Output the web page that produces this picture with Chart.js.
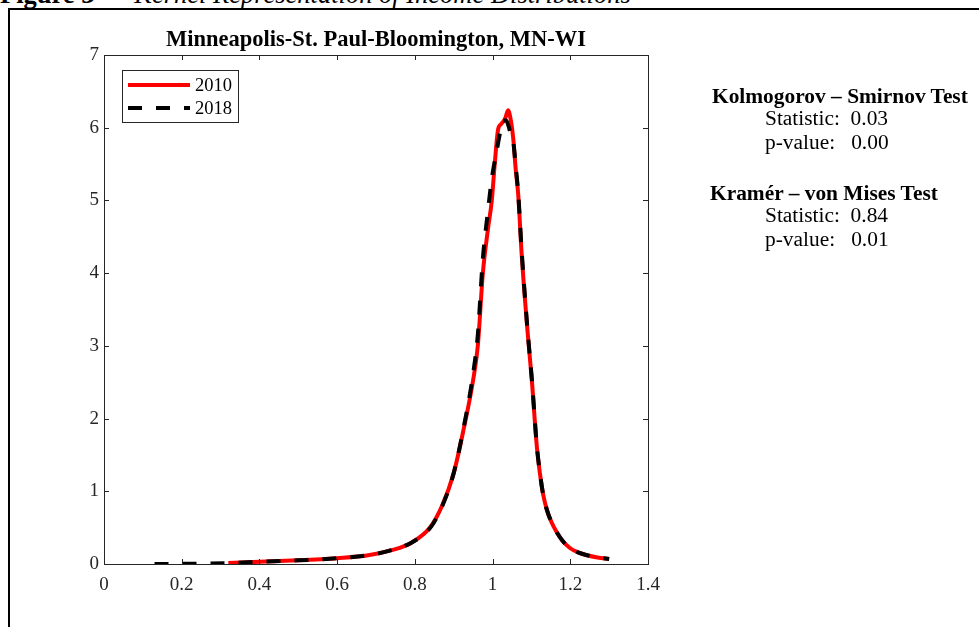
<!DOCTYPE html>
<html>
<head>
<meta charset="utf-8">
<script src="https://cdn.jsdelivr.net/npm/chart.js@4/dist/chart.umd.min.js"></script>
<style>
  body { margin: 0; background: #fff; width: 979px; height: 627px; overflow: hidden; position: relative;
         font-family: "Liberation Serif", "Times New Roman", serif; color: #000; }
  #frame { position: absolute; left: 8px; top: 8px; width: 1200px; height: 900px;
           border-left: 2px solid #000; border-top: 2px solid #000; }
  #head { position: absolute; left: 0; top: -19px; font-size: 26.5px; line-height: 26px; white-space: pre; }
  #head i { font-style: italic; }
  canvas { position: absolute; left: 0; top: 0; }
  .st { position: absolute; font-size: 20px; white-space: pre; line-height: 20px;
        transform: scaleX(1.07); transform-origin: 0 0; }
  .st b { font-weight: bold; }
</style>
</head>
<body>
<div id="head"><b>Figure 3</b>  –  <i>Kernel Representation of Income Distributions</i></div>
<div id="frame"></div>
<canvas id="myChart" width="979" height="627"></canvas>
<div class="st" style="left:712px;top:86px"><b>Kolmogorov – Smirnov Test</b></div>
<div class="st" style="left:765px;top:108px">Statistic:  0.03</div>
<div class="st" style="left:765px;top:132px">p-value:   0.00</div>
<div class="st" style="left:710px;top:183px"><b>Kramér – von Mises Test</b></div>
<div class="st" style="left:765px;top:205px">Statistic:  0.84</div>
<div class="st" style="left:765px;top:229px">p-value:   0.01</div>
<script>
// kernel density estimates
const x2010 = [0.32, 0.40, 0.50, 0.60, 0.68, 0.74, 0.79, 0.84, 0.87, 0.90, 0.925, 0.95, 0.962, 0.975, 0.988, 0.998, 1.006, 1.014, 1.022, 1.032, 1.040, 1.047, 1.053, 1.060, 1.066, 1.075, 1.090, 1.101, 1.114, 1.122, 1.130, 1.140, 1.152, 1.166, 1.180, 1.199, 1.220, 1.243, 1.270, 1.30];
const y2010 = [0.014, 0.03, 0.05, 0.08, 0.12, 0.19, 0.29, 0.51, 0.80, 1.25, 1.84, 2.53, 3.00, 4.00, 4.60, 5.00, 5.53, 5.97, 6.05, 6.12, 6.24, 6.10, 5.86, 5.40, 5.08, 4.25, 3.20, 2.53, 1.61, 1.24, 0.96, 0.74, 0.57, 0.43, 0.32, 0.22, 0.16, 0.12, 0.09, 0.07];

const x2018 = [0.13, 0.20, 0.25, 0.32, 0.40, 0.50, 0.60, 0.68, 0.74, 0.79, 0.84, 0.87, 0.90, 0.925, 0.95, 0.962, 0.975, 0.988, 0.998, 1.011, 1.020, 1.027, 1.035, 1.045, 1.053, 1.060, 1.066, 1.075, 1.090, 1.101, 1.114, 1.122, 1.130, 1.140, 1.152, 1.166, 1.180, 1.199, 1.220, 1.243, 1.270, 1.30];
const y2018 = [0.0, 0.003, 0.006, 0.013, 0.03, 0.05, 0.08, 0.12, 0.19, 0.29, 0.50, 0.79, 1.25, 1.86, 2.62, 3.15, 4.20, 4.85, 5.30, 5.69, 5.95, 6.10, 6.10, 5.95, 5.82, 5.45, 5.10, 4.30, 3.22, 2.55, 1.62, 1.25, 0.96, 0.74, 0.57, 0.43, 0.32, 0.22, 0.16, 0.12, 0.09, 0.07];

const xTicks = [0, 0.2, 0.4, 0.6, 0.8, 1, 1.2, 1.4];
const yTicks = [0, 1, 2, 3, 4, 5, 6, 7];
const seriesLabels = ['2010', '2018'];
const chartTitle = 'Minneapolis-St. Paul-Bloomington, MN-WI';

const toPoints = (xs, ys) => xs.map((x, i) => ({ x: x, y: ys[i] }));
const axisColor = '#262626';
const serif = '"Liberation Serif", "Times New Roman", serif';

// MATLAB style box with inward ticks on all sides
const boxPlugin = {
    id: 'box',
    afterDatasetsDraw(chart) {
        const { ctx, chartArea: a, scales } = chart;
        ctx.save();
        ctx.strokeStyle = axisColor;
        ctx.lineWidth = 1;
        ctx.strokeRect(a.left + 0.5, a.top + 0.5, a.right - a.left, a.bottom - a.top);
        ctx.beginPath();
        xTicks.forEach(v => {
            const px = Math.round(scales.x.getPixelForValue(v)) + 0.5;
            ctx.moveTo(px, a.bottom); ctx.lineTo(px, a.bottom - 5);
            ctx.moveTo(px, a.top); ctx.lineTo(px, a.top + 5);
        });
        yTicks.forEach(v => {
            const py = Math.round(scales.y.getPixelForValue(v)) + 0.5;
            ctx.moveTo(a.left, py); ctx.lineTo(a.left + 5, py);
            ctx.moveTo(a.right, py); ctx.lineTo(a.right - 5, py);
        });
        ctx.stroke();

        // legend box
        const lx = a.left + 18, ly = a.top + 15, lw = 116, lh = 52;
        ctx.fillStyle = '#fff';
        ctx.fillRect(lx, ly, lw, lh);
        ctx.strokeRect(lx + 0.5, ly + 0.5, lw, lh);
        chart.data.datasets.forEach((ds, i) => {
            const yy = ly + 15 + i * 23;
            ctx.beginPath();
            ctx.strokeStyle = ds.borderColor;
            ctx.lineWidth = ds.borderWidth;
            ctx.setLineDash(ds.borderDash || []);
            ctx.moveTo(lx + 6, yy);
            ctx.lineTo(lx + 68, yy);
            ctx.stroke();
            ctx.setLineDash([]);
            ctx.fillStyle = '#000';
            ctx.font = '18.5px ' + serif;
            ctx.textBaseline = 'middle';
            ctx.fillText(ds.label, lx + 73, yy + 1);
        });
        ctx.restore();
    }
};

new Chart(document.getElementById('myChart'), {
    type: 'line',
    data: {
        datasets: [
            {
                label: seriesLabels[0],
                data: toPoints(x2010, y2010),
                borderColor: '#ff0000',
                borderWidth: 4,
                pointRadius: 0,
                cubicInterpolationMode: 'monotone',
                order: 2,
            },
            {
                label: seriesLabels[1],
                data: toPoints(x2018, y2018),
                borderColor: '#000000',
                borderWidth: 4,
                borderDash: [14, 14],
                pointRadius: 0,
                cubicInterpolationMode: 'monotone',
                order: 1,
            },
        ],
    },
    options: {
        responsive: false,
        animation: false,
        layout: { padding: { left: 0, top: 0, right: 331, bottom: 0 } },
        plugins: {
            legend: { display: false },
            tooltip: { enabled: false },
            title: {
                display: true,
                text: chartTitle,
                fullSize: false,
                color: '#000',
                font: { family: serif, size: 22.5, weight: 'bold' },
                padding: { top: 27, bottom: 1 },
            },
        },
        scales: {
            x: {
                type: 'linear',
                min: 0,
                max: 1.4,
                afterFit: s => { s.height = 63; },
                afterBuildTicks: s => { s.ticks = xTicks.map(v => ({ value: v })); },
                grid: { display: false, drawTicks: false },
                border: { display: false },
                ticks: {
                    color: axisColor, padding: 10, maxRotation: 0,
                    font: { family: serif, size: 19 },
                    callback: v => String(v),
                },
            },
            y: {
                min: 0,
                max: 7,
                afterFit: s => { s.width = 104; },
                afterBuildTicks: s => { s.ticks = yTicks.map(v => ({ value: v })); },
                grid: { display: false, drawTicks: false },
                border: { display: false },
                ticks: { color: axisColor, padding: 5, font: { family: serif, size: 19 }, callback: v => String(v) },
            },
        },
    },
    plugins: [boxPlugin],
});
</script>
</body>
</html>
